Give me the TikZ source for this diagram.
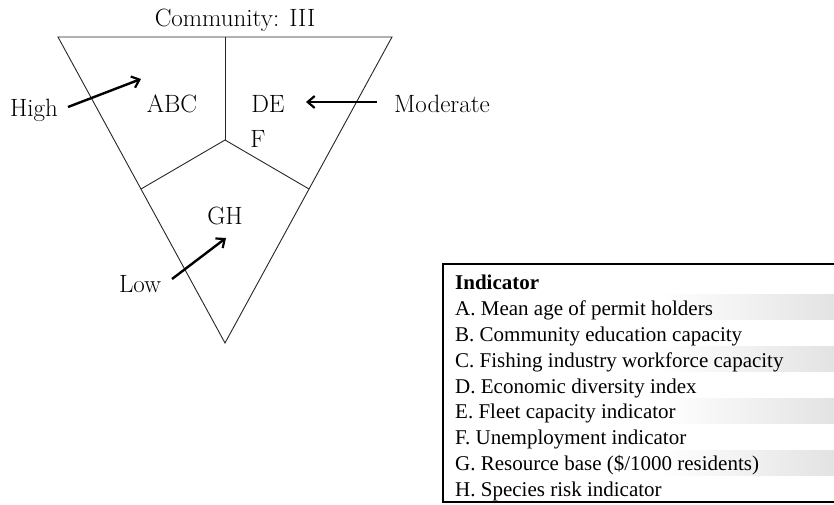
\documentclass[tikz,border=0pt]{standalone}
\usepackage{fontspec}
\newfontfamily\legfont{Liberation Serif}
\usetikzlibrary{arrows.meta}
\begin{document}
\begin{tikzpicture}[x=1pt,y=-1pt,
  thinline/.style={line width=0.9pt, black!85},
  arr/.style={line width=2.4pt, -{Straight Barb[length=7pt,width=12pt,line width=2.2pt]}},
  lab/.style={font=\fontsize{25}{30}\selectfont\addfontfeature{FakeBold=0.6}, inner sep=0pt, anchor=base},
  leg/.style={font=\legfont\fontsize{21}{25}\selectfont, inner sep=0pt, anchor=base west},
  band/.style={left color=white, right color=black!11, draw=none}]
\useasboundingbox (0,0) rectangle (834,505);
% triangle geometry
\coordinate (tl) at (58,37);
\coordinate (tr) at (392,37);
\coordinate (bot) at (225,343);
\coordinate (tm) at (225,37);
\coordinate (ctr) at (225,140);
\coordinate (lm) at (141,189);
\coordinate (rm) at (309,189);
\draw[thinline] (tl) -- (tr) -- (bot) -- cycle;
\draw[thinline] (tm) -- (ctr);
\draw[thinline] (lm) -- (ctr) -- (rm);
% labels
\node[lab] (title) at (235,27) {Community: III};
\node[lab] (abc) at (172,113) {ABC};
\node[lab] (de) at (268,113) {DE};
\node[lab] (f) at (258,148) {F};
\node[lab] (gh) at (225,224) {GH};
\node[lab] (high) at (34,117) {High};
\node[lab] (mod) at (442,113) {Moderate};
\node[lab] (low) at (140,292) {Low};
% arrows
\coordinate (hightail) at (68,107);
\coordinate (highhead) at (141,79);
\coordinate (modtail) at (377,102);
\coordinate (modhead) at (306,102);
\coordinate (lowtail) at (172,279);
\coordinate (lowhead) at (226,238);
\draw[arr] (hightail) -- (highhead);
\draw[arr] (modtail) -- (modhead);
\draw[arr] (lowtail) -- (lowhead);
% legend bands
\fill[band] (660,294) rectangle (834,319);
\fill[band] (660,346) rectangle (834,371);
\fill[band] (660,398) rectangle (834,423);
\fill[band] (660,450) rectangle (834,475);
% legend box (right edge cut off)
\coordinate (boxtl) at (443,264);
\coordinate (boxbl) at (443,502);
\coordinate (boxtr) at (834,264);
\coordinate (boxbr) at (834,502);
\draw[line width=1.6pt] (boxtr) -- (boxtl) -- (boxbl) -- (boxbr);
% legend text
\node[leg, font=\legfont\bfseries\fontsize{21}{25}\selectfont] (ind) at (455,289) {Indicator};
\node[leg] (la) at (455,315) {A. Mean age of permit holders};
\node[leg] (lb) at (455,341) {B. Community education capacity};
\node[leg] (lc) at (455,367) {C. Fishing industry workforce capacity};
\node[leg] (ld) at (455,393) {D. Economic diversity index};
\node[leg] (le) at (455,418) {E. Fleet capacity indicator};
\node[leg] (lf) at (455,444) {F. Unemployment indicator};
\node[leg] (lg) at (455,470) {G. Resource base (\$/1000 residents)};
\node[leg] (lh) at (455,496) {H. Species risk indicator};
\end{tikzpicture}
\end{document}
